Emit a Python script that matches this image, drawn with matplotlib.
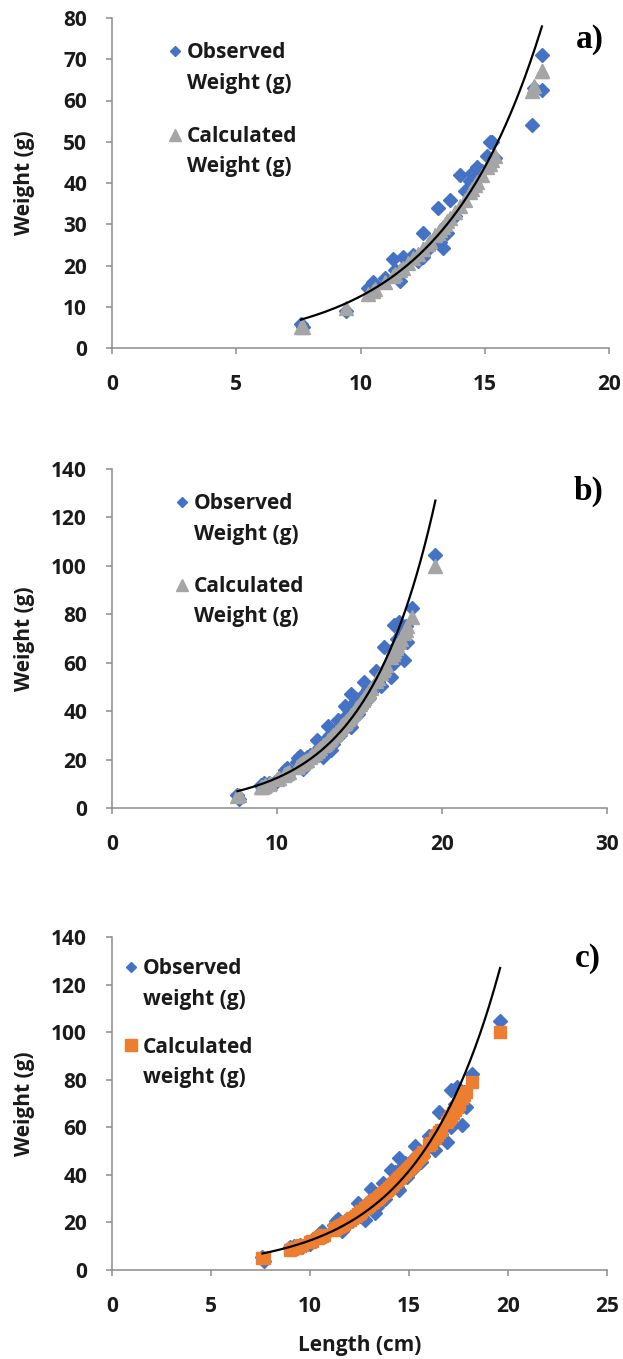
import numpy as np
import matplotlib
matplotlib.use("Agg")
import matplotlib.pyplot as plt
from matplotlib.lines import Line2D
from matplotlib.legend_handler import HandlerLine2D


# panel a) fish
LENGTH_A = [7.6, 7.7, 9.4, 10.3, 10.5, 10.6, 11.0, 11.3, 11.4, 11.6,
            11.7, 11.9, 12.1, 12.3, 12.5, 12.5, 12.7, 12.8, 13.0, 13.1,
            13.2, 13.3, 13.4, 13.5, 13.6, 13.8, 14.0, 14.2, 14.4, 14.5,
            14.6, 14.7, 14.9, 15.1, 15.2, 15.3, 15.4, 16.9, 17.0, 17.3,
            17.3]
OBSERVED_A = [5.8, 5.2, 9.0, 14.5, 16.0, 15.0, 17.0, 21.5, 19.0, 16.3,
              22.0, 21.0, 22.5, 21.0, 27.8, 22.0, 24.0, 25.0, 26.5, 34.0,
              25.8, 24.3, 29.5, 28.0, 36.0, 32.0, 42.0, 38.0, 40.5, 42.5,
              41.0, 44.0, 43.0, 46.5, 50.0, 50.0, 46.0, 54.0, 63.0, 71.0,
              62.5]
CALCULATED_A = [5.0, 5.2, 9.8, 13.1, 13.9, 14.3, 16.1, 17.5, 18.0, 19.0,
                19.5, 20.6, 21.8, 22.9, 24.1, 24.1, 25.3, 26.0, 27.3, 28.0,
                28.6, 29.3, 30.0, 30.7, 31.4, 32.9, 34.5, 36.0, 37.7, 38.5,
                39.4, 40.2, 42.0, 43.8, 44.7, 45.6, 46.6, 62.4, 63.6, 67.2,
                67.2]

# panels b) and c) share the same fish
LENGTH_BC = [7.6, 7.7, 9.0, 9.1, 9.2, 9.3, 9.5, 9.6, 10.0, 10.1,
             10.4, 10.5, 10.6, 10.7, 11.2, 11.3, 11.4, 11.5, 11.6, 11.7,
             11.8, 12.0, 12.1, 12.3, 12.4, 12.5, 12.6, 12.8, 12.9, 13.0,
             13.1, 13.2, 13.3, 13.4, 13.5, 13.6, 13.7, 13.8, 13.9, 14.0,
             14.1, 14.2, 14.3, 14.4, 14.5, 14.5, 14.6, 14.7, 14.8, 14.9,
             15.0, 15.1, 15.2, 15.3, 15.4, 15.5, 15.6, 15.7, 16.0, 16.1,
             16.3, 16.4, 16.5, 16.6, 16.9, 17.0, 17.1, 17.1, 17.2, 17.3,
             17.4, 17.5, 17.7, 17.8, 17.9, 18.2, 19.6]
OBSERVED_BC = [5.4, 3.8, 9.5, 8.8, 10.2, 9.5, 10.5, 9.8, 11.0, 12.5,
               14.0, 15.5, 16.5, 14.5, 19.0, 20.5, 21.5, 18.0, 16.3, 19.5,
               21.0, 22.0, 20.5, 23.0, 28.0, 22.5, 25.0, 21.0, 27.5, 29.0,
               34.0, 30.0, 24.0, 26.5, 31.0, 32.0, 36.5, 30.0, 35.0, 33.0,
               42.0, 38.0, 41.0, 35.0, 47.0, 33.5, 43.0, 40.0, 45.0, 39.0,
               44.0, 46.0, 42.5, 52.0, 47.0, 49.0, 45.5, 48.0, 56.5, 52.0,
               50.5, 55.0, 66.5, 57.0, 54.0, 63.0, 75.5, 60.0, 67.0, 70.0,
               77.0, 72.0, 61.0, 75.0, 68.5, 82.5, 104.5]
CALCULATED_BC = [5.0, 5.2, 8.5, 8.8, 9.1, 9.4, 10.1, 10.4, 11.9, 12.2,
                 13.5, 13.9, 14.3, 14.7, 17.0, 17.5, 18.0, 18.5, 19.0, 19.5,
                 20.0, 21.2, 21.8, 22.9, 23.5, 24.1, 24.7, 26.0, 26.6, 27.3,
                 28.0, 28.6, 29.3, 30.0, 30.7, 31.4, 32.2, 32.9, 33.7, 34.5,
                 35.2, 36.0, 36.9, 37.7, 38.5, 38.5, 39.4, 40.2, 41.1, 42.0,
                 42.9, 43.8, 44.7, 45.6, 46.6, 47.5, 48.5, 49.5, 52.5, 53.6,
                 55.7, 56.8, 57.9, 59.0, 62.4, 63.6, 64.8, 64.8, 66.0, 67.2,
                 68.5, 69.7, 72.3, 73.6, 75.0, 79.0, 100.0]

BLUE = "#4472C4"
GREY = "#A5A5A5"
ORANGE = "#ED7D31"
AXIS_GREY = "#8C8C8C"
TEXT = "#1a1a1a"
FS = 15

W, H = 623, 1359

plt.rcParams["font.family"] = ["Open Sans", "DejaVu Sans"]
plt.rcParams["font.weight"] = "bold"


class FirstLineHandler(HandlerLine2D):
    # put the legend marker next to the first line of a two-line label
    def __init__(self, shift, **kw):
        super().__init__(**kw)
        self.shift = shift

    def create_artists(self, legend, orig_handle, xdescent, ydescent,
                       width, height, fontsize, trans):
        artists = super().create_artists(legend, orig_handle, xdescent,
                                         ydescent, width, height, fontsize,
                                         trans)
        for a in artists:
            a.set_ydata(np.asarray(a.get_ydata(), float) + self.shift * fontsize)
        return artists


def exp_trend(lengths, weights):
    # Excel-style exponential trendline: least squares on log(weight)
    x = np.asarray(lengths, dtype=float)
    slope, intercept = np.polyfit(x, np.log(weights), 1)
    xs = np.linspace(x.min(), x.max(), 200)
    return xs, np.exp(intercept + slope * xs)


def px_axes(left, top, right, bottom):
    return [left / W, 1 - bottom / H, (right - left) / W, (bottom - top) / H]


def style_axes(ax, xmax, xstep, ymax, ystep):
    ax.set_xlim(0, xmax)
    ax.set_ylim(0, ymax)
    ax.set_xticks(np.arange(0, xmax + 1, xstep))
    ax.set_yticks(np.arange(0, ymax + 1, ystep))
    for side in ("top", "right"):
        ax.spines[side].set_visible(False)
    for side in ("left", "bottom"):
        ax.spines[side].set_color(AXIS_GREY)
        ax.spines[side].set_linewidth(1.1)
    ax.tick_params(direction="out", length=4, width=1.1, color=AXIS_GREY,
                   labelsize=FS, labelcolor=TEXT)
    ax.tick_params(axis="x", pad=15)
    ax.tick_params(axis="y", pad=14)
    ax.set_ylabel("Weight (g)", fontsize=FS, fontweight="bold", color=TEXT)
    ax.yaxis.set_label_coords(-0.155, 0.5)


def add_legend(ax, handles, labels, anchor_px, gap):
    leg = ax.legend(handles, labels, loc="upper left",
                    bbox_to_anchor=(anchor_px[0] / W, 1 - anchor_px[1] / H),
                    bbox_transform=ax.figure.transFigure,
                    handler_map={Line2D: FirstLineHandler(0.85)},
                    frameon=False, fontsize=FS, handlelength=0.7,
                    handletextpad=0.2, labelspacing=gap, borderpad=0,
                    borderaxespad=0)
    for t in leg.get_texts():
        t.set_linespacing(1.6)
        t.set_color(TEXT)


def panel_tag(ax, text):
    ax.text(0.962, 0.935, text, transform=ax.transAxes, ha="center",
            va="center", fontsize=24, fontweight="bold",
            family="Liberation Serif")


fig = plt.figure(figsize=(W / 100, H / 100), dpi=100)

# a)
ax = fig.add_axes(px_axes(112, 18, 609, 348))
ax.plot(LENGTH_A, OBSERVED_A, ls="none", marker="D", ms=7, color=BLUE,
        mec=BLUE)
ax.plot(LENGTH_A, CALCULATED_A, ls="none", marker="^", ms=10, color=GREY,
        mec=GREY)
tx, ty = exp_trend(LENGTH_A, OBSERVED_A)
ax.plot(tx, ty, color="black", lw=1.6)
style_axes(ax, 20, 5, 80, 10)
add_legend(ax,
           [Line2D([], [], ls="none", marker="D", ms=5.5, color=BLUE),
            Line2D([], [], ls="none", marker="^", ms=8, color=GREY)],
           ["Observed\nWeight (g)", "Calculated\nWeight (g)"],
           (168, 42), 1.55)
panel_tag(ax, "a)")

# b)
ax = fig.add_axes(px_axes(112, 469, 607, 808))
ax.plot(LENGTH_BC, OBSERVED_BC, ls="none", marker="D", ms=7, color=BLUE,
        mec=BLUE)
ax.plot(LENGTH_BC, CALCULATED_BC, ls="none", marker="^", ms=10, color=GREY,
        mec=GREY)
tx, ty = exp_trend(LENGTH_BC, OBSERVED_BC)
ax.plot(tx, ty, color="black", lw=1.6)
style_axes(ax, 30, 10, 140, 20)
add_legend(ax,
           [Line2D([], [], ls="none", marker="D", ms=5.5, color=BLUE),
            Line2D([], [], ls="none", marker="^", ms=8, color=GREY)],
           ["Observed\nWeight (g)", "Calculated\nWeight (g)"],
           (175, 493), 1.5)
panel_tag(ax, "b)")

# c)
ax = fig.add_axes(px_axes(112, 937, 607, 1270))
ax.plot(LENGTH_BC, OBSERVED_BC, ls="none", marker="D", ms=7, color=BLUE,
        mec=BLUE)
ax.plot(LENGTH_BC, CALCULATED_BC, ls="none", marker="s", ms=8.5, color=ORANGE,
        mec=ORANGE)
tx, ty = exp_trend(LENGTH_BC, OBSERVED_BC)
ax.plot(tx, ty, color="black", lw=1.6)
style_axes(ax, 25, 5, 140, 20)
ax.set_xlabel("Length (cm)", fontsize=FS, fontweight="bold", color=TEXT,
              labelpad=13)
add_legend(ax,
           [Line2D([], [], ls="none", marker="D", ms=5.5, color=BLUE),
            Line2D([], [], ls="none", marker="s", ms=8, color=ORANGE)],
           ["Observed\nweight (g)", "Calculated\nweight (g)"],
           (124, 958), 1.3)
panel_tag(ax, "c)")

fig.savefig("out.png", dpi=100)
